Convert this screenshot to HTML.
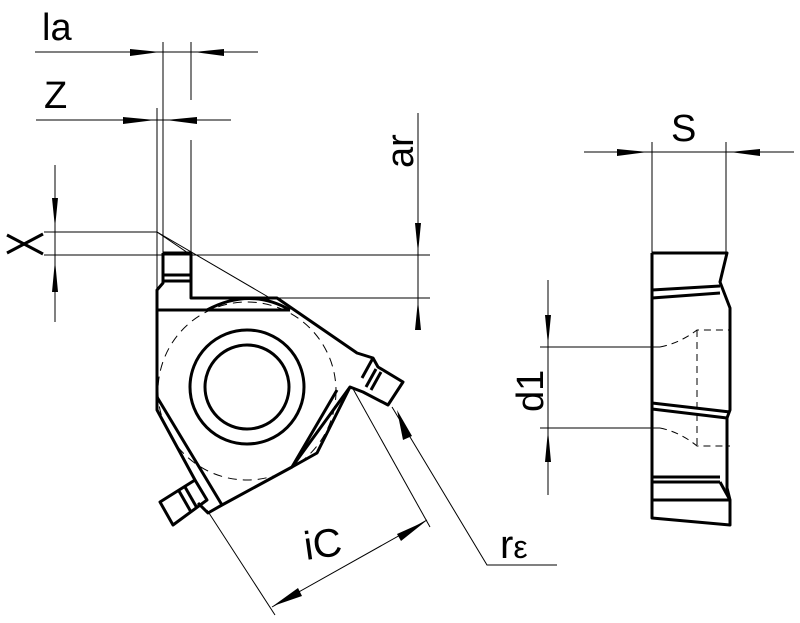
<!DOCTYPE html>
<html><head><meta charset="utf-8"><style>
html,body{margin:0;padding:0;background:#fff;width:800px;height:623px;overflow:hidden}
svg{display:block}
text{font-family:"Liberation Sans",sans-serif;fill:#000}
</style></head><body>
<svg width="800" height="623" viewBox="0 0 800 623" xmlns="http://www.w3.org/2000/svg">
<g stroke="#000" stroke-width="1" fill="none">
<!-- la -->
<line x1="35" y1="52" x2="258" y2="52"/>
<line x1="163" y1="42" x2="163" y2="255"/>
<line x1="191" y1="42" x2="191" y2="100"/>
<line x1="191" y1="140" x2="191" y2="255"/>
<!-- Z -->
<line x1="36" y1="120" x2="231" y2="120"/>
<line x1="157" y1="108" x2="157" y2="300"/>
<!-- X -->
<line x1="55" y1="165" x2="55" y2="322"/>
<polyline points="44,232 157,232 191,255"/>
<line x1="157" y1="232" x2="270" y2="298"/>
<line x1="44" y1="255" x2="430" y2="255"/>
<line x1="192" y1="298" x2="430" y2="298"/>
<!-- ar -->
<line x1="418" y1="113" x2="418" y2="330"/>
<!-- iC -->
<line x1="207" y1="510" x2="275" y2="615"/>
<line x1="352" y1="387" x2="430" y2="527"/>
<line x1="272" y1="607" x2="427" y2="520"/>
<!-- r eps -->
<polyline points="392,407 487,565 557,565"/>
<!-- d1 -->
<line x1="548" y1="280" x2="548" y2="495"/>
<line x1="540" y1="347" x2="660" y2="347"/>
<line x1="540" y1="428" x2="660" y2="428"/>
<!-- S -->
<line x1="584" y1="152" x2="794" y2="152"/>
<line x1="652" y1="142" x2="652" y2="253"/>
<line x1="726" y1="142" x2="726" y2="253"/>
</g>
<!-- arrowheads -->
<g fill="#000">
<polygon points="130,49 130,56 160,52"/>
<polygon points="224,49 224,56 194,52"/>
<polygon points="123,117 123,124 155,120"/>
<polygon points="197,117 197,124 166,120"/>
<polygon points="52,198 58,198 55,228"/>
<polygon points="52,292 58,292 55,260"/>
<polygon points="415,223 421,223 418,253"/>
<polygon points="415,330 421,330 418,300"/>
<polygon points="545,315 551,315 548,345"/>
<polygon points="545,462 551,462 548,430"/>
<polygon points="617,149 617,156 648,152"/>
<polygon points="760,149 760,156 730,152"/>
<polygon points="403,440 412,436 397,410"/>
<polygon points="298,588 302,596 273,606"/>
<polygon points="397,534 401,541 426,521"/>
</g>
<!-- X glyph -->
<g stroke="#000" stroke-width="3" fill="none">
<line x1="7" y1="235" x2="43" y2="254"/>
<line x1="7" y1="253" x2="43" y2="234"/>
</g>
<!-- insert -->
<g stroke="#000" stroke-width="3" fill="none" stroke-linejoin="round">
<polyline points="163,253 191,253 191,298 277,298 357,353 373,358 378,367 403,382 388,405 363,392 350,387 292,467 222,505 208,513 198,503"/>
<polyline points="163,253 163,283 157,290 157,410 195,480"/>
<line x1="163" y1="275" x2="191" y2="275"/>
<line x1="163" y1="281" x2="191" y2="281"/>
<polygon points="160,502 195,480 207,500 173,525"/>
<line x1="185" y1="487" x2="197" y2="508"/>
<line x1="179" y1="491" x2="191" y2="512"/>
<line x1="158" y1="310" x2="290" y2="310"/>
<path d="M207,310 Q250,287 290,310"/>
<line x1="157" y1="397" x2="222" y2="505"/>
<line x1="337" y1="390" x2="292" y2="467"/>
<polyline points="350,387 317,453 292,467"/>
<line x1="373" y1="358" x2="362" y2="378"/>
<line x1="381" y1="372" x2="371" y2="390"/>
<line x1="376" y1="369" x2="366" y2="387"/>
<circle cx="247" cy="387" r="57"/>
<circle cx="247" cy="387" r="42"/>
</g>
<circle cx="247" cy="391" r="89" stroke="#000" stroke-width="1" fill="none" stroke-dasharray="9,6"/>
<!-- side view -->
<g stroke="#000" stroke-width="3" fill="none" stroke-linejoin="round">
<polyline points="652,253 727,253 720,282 730,308 730,410 727,418 727,488 730,500 730,525 652,518 652,253"/>
<line x1="652" y1="290" x2="720" y2="286"/>
<line x1="652" y1="298" x2="720" y2="293"/>
<line x1="652" y1="403" x2="730" y2="412"/>
<line x1="652" y1="409" x2="727" y2="418"/>
<line x1="652" y1="477" x2="720" y2="477"/>
<line x1="652" y1="482" x2="720" y2="482"/>
<line x1="720" y1="482" x2="730" y2="500"/>
<line x1="652" y1="500" x2="730" y2="500"/>
</g>
<g stroke="#000" stroke-width="1" fill="none" stroke-dasharray="7,5">
<path d="M660,347 Q680,343 697,330 L730,330"/>
<line x1="697" y1="330" x2="697" y2="446"/>
<path d="M660,428 Q680,432 697,446 L730,446"/>
</g>
<!-- labels -->
<text x="42" y="40" font-size="38">la</text>
<text x="44" y="108" font-size="38">Z</text>
<text x="0" y="0" font-size="38" transform="translate(413,168) rotate(-90)">ar</text>
<text x="0" y="0" font-size="38" transform="translate(543,412) rotate(-90)">d1</text>
<text x="671" y="141" font-size="38">S</text>
<text x="0" y="0" font-size="40" transform="translate(306,560) rotate(-8)">iC</text>
<text x="500" y="558" font-size="40">r<tspan font-size="32" dy="0">ε</tspan></text>
</svg>
</body></html>
